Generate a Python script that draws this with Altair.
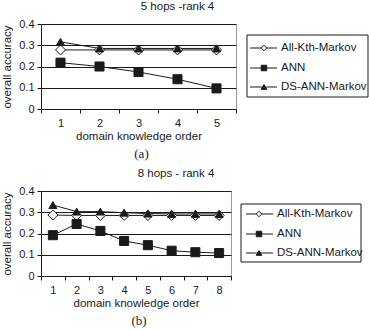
import altair as alt
import pandas as pd

series_names = ["All-Kth-Markov", "ANN", "DS-ANN-Markov"]
series_shapes = ["diamond", "square", "triangle-up"]
series_fills = ["white", "#1a1a1a", "#1a1a1a"]

# Panel (a): 5 hops - rank 4
a_orders = [1, 2, 3, 4, 5]
a_allkth = [0.278, 0.278, 0.278, 0.278, 0.278]
a_ann = [0.218, 0.200, 0.174, 0.140, 0.097]
a_ds = [0.316, 0.285, 0.285, 0.285, 0.285]

# Panel (b): 8 hops - rank 4
b_orders = [1, 2, 3, 4, 5, 6, 7, 8]
b_allkth = [0.287, 0.285, 0.285, 0.285, 0.285, 0.285, 0.285, 0.285]
b_ann = [0.192, 0.245, 0.212, 0.165, 0.145, 0.119, 0.112, 0.108]
b_ds = [0.334, 0.303, 0.303, 0.298, 0.294, 0.292, 0.292, 0.292]

y_ticks = [0, 0.1, 0.2, 0.3, 0.4]

FONT = "Liberation Sans"
DARK = "#1a1a1a"


def long_df(orders, a, b, c):
    rows = []
    for name, vals in zip(series_names, [a, b, c]):
        for o, v in zip(orders, vals):
            rows.append({"order": o, "series": name, "value": v})
    return pd.DataFrame(rows)


def panel(orders, allkth, ann, ds, title, label, width, height,
          sizes, leg, title_dx):
    df = long_df(orders, allkth, ann, ds)
    xaxis = alt.Axis(title="domain knowledge order", labelAngle=0,
                     tickBand="extent", tickSize=4, tickColor=DARK,
                     domainColor=DARK, labelFont=FONT, labelFontSize=11,
                     labelColor=DARK, labelPadding=4,
                     titleFont=FONT, titleFontSize=11.5, titleFontWeight="normal",
                     titleColor=DARK, titlePadding=2, grid=False)
    xscale = alt.Scale(type="band", paddingInner=0, paddingOuter=0)
    yaxis = alt.Axis(title="overall accuracy", values=y_ticks, tickCount=5, format="~g",
                     labelOverlap=False, labelFlush=False,
                     grid=True, gridColor=DARK, gridWidth=1,
                     tickSize=4, tickColor=DARK, domainColor=DARK,
                     labelFont=FONT, labelFontSize=11, labelColor=DARK,
                     labelPadding=3,
                     titleFont=FONT, titleFontSize=11.5, titleFontWeight="normal",
                     titleColor=DARK, titlePadding=6)
    yscale = alt.Scale(domain=[0, 0.4], nice=False, zero=True)
    xenc = alt.X("order:O", scale=xscale, axis=xaxis)
    yenc = alt.Y("value:Q", scale=yscale, axis=yaxis)
    shape_scale = alt.Scale(domain=series_names, range=series_shapes)
    fill_scale = alt.Scale(domain=series_names, range=series_fills)
    size_scale = alt.Scale(domain=series_names, range=sizes)

    lines = alt.Chart(df).mark_line(color=DARK, strokeWidth=1).encode(
        x=xenc, y=yenc, detail="series:N")
    points = alt.Chart(df).mark_point(filled=False, stroke=DARK, strokeWidth=1, opacity=1).encode(
        x=xenc, y=yenc,
        shape=alt.Shape("series:N", scale=shape_scale, legend=None),
        fill=alt.Fill("series:N", scale=fill_scale, legend=None),
        size=alt.Size("series:N", scale=size_scale, legend=None),
    )
    note = alt.Chart(pd.DataFrame({"t": [label]})).mark_text(
        font="Liberation Serif", fontSize=13, color=DARK, baseline="middle", align="center"
    ).encode(text="t:N", x=alt.value(width / 2 + 3), y=alt.value(height + 45))

    layers = [lines, points, note]
    box = alt.Chart(pd.DataFrame({"k": [0]})).mark_rect(
        fill="white", stroke=DARK, strokeWidth=1).encode(
        x=alt.value(leg["x0"]), x2=alt.value(leg["x1"]),
        y=alt.value(leg["y0"]), y2=alt.value(leg["y1"]))
    layers.append(box)
    for i, name in enumerate(series_names):
        ry = leg["rows"][i]
        one = pd.DataFrame({"series": [name]})
        layers.append(alt.Chart(one).mark_rule(color=DARK, strokeWidth=1).encode(
            x=alt.value(leg["l0"]), x2=alt.value(leg["l1"]), y=alt.value(ry)))
        layers.append(alt.Chart(one).mark_point(
            filled=False, stroke=DARK, strokeWidth=1, opacity=1,
            shape=series_shapes[i], fill=series_fills[i], size=30).encode(
            x=alt.value(leg["m"]), y=alt.value(ry)))
        layers.append(alt.Chart(one).mark_text(
            font=FONT, fontSize=11.5, color=DARK, align="left", baseline="middle").encode(
            x=alt.value(leg["t"]), y=alt.value(ry), text="series:N"))

    return alt.layer(*layers).properties(
        width=width, height=height,
        title=alt.TitleParams(title, font=FONT, fontSize=11.5, fontWeight="normal",
                              color=DARK, anchor="middle", dx=title_dx, offset=6),
    )


top = panel(a_orders, a_allkth, a_ann, a_ds, "5 hops -rank 4", "(a)", 195, 85,
            [100, 64, 81],
            dict(x0=206, x1=327, y0=11, y1=73, rows=[24, 44, 63], l0=209, l1=236, m=223, t=240),
            39)
bottom = panel(b_orders, b_allkth, b_ann, b_ds, "8 hops - rank 4", "(b)", 190, 85,
               [81, 30, 100],
               dict(x0=200, x1=320, y0=13, y1=71, rows=[23, 43, 62], l0=205, l1=232, m=218, t=236),
               40)

chart = alt.vconcat(top, bottom, spacing=5).properties(
    padding={"left": 1, "top": 0, "right": 0, "bottom": 0},
    background="white",
).configure_view(stroke="#9a9a9a", strokeWidth=1).configure_axis(labelOverlap=False)

chart.save("out.html", embed_options={"renderer": "svg", "actions": False})
